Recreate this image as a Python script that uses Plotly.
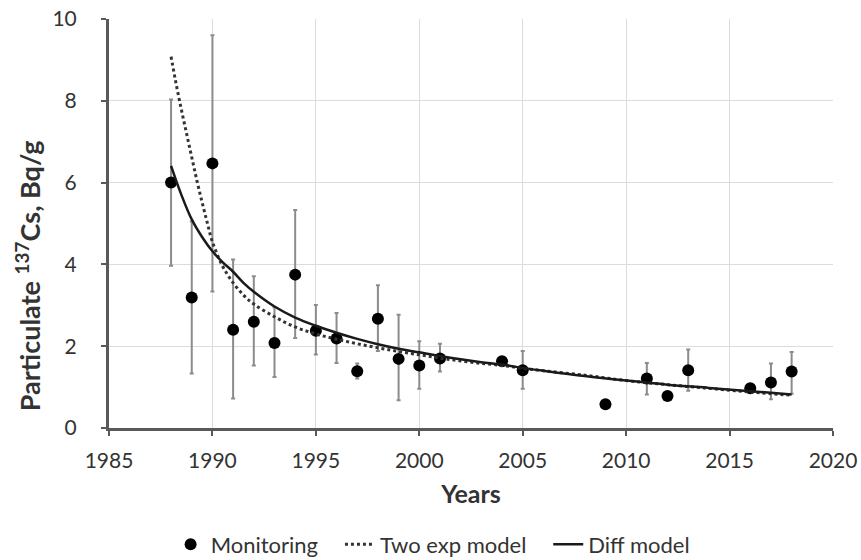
import plotly.graph_objects as go

# Monitoring data
years = [1988, 1989, 1990, 1991, 1992, 1993, 1994, 1995, 1996, 1997, 1998, 1999,
         2000, 2001, 2004, 2005, 2009, 2011, 2012, 2013, 2016, 2017, 2018]
values = [6.00, 3.19, 6.47, 2.40, 2.60, 2.08, 3.75, 2.38, 2.19, 1.39, 2.67, 1.69,
          1.53, 1.70, 1.63, 1.41, 0.58, 1.21, 0.78, 1.41, 0.97, 1.11, 1.38]
err_plus = [2.03, 1.86, 3.13, 1.72, 1.11, 0.87, 1.58, 0.63, 0.62, 0.19, 0.82, 1.08,
            0.59, 0.36, 0.0, 0.47, 0.0, 0.38, 0.0, 0.51, 0.0, 0.47, 0.48]
err_minus = [2.03, 1.86, 3.13, 1.68, 1.07, 0.83, 1.55, 0.58, 0.60, 0.18, 0.79, 1.01,
             0.57, 0.32, 0.0, 0.45, 0.0, 0.39, 0.0, 0.50, 0.0, 0.41, 0.54]

# Two exponential model curve
two_exp_years = [1988, 1988.25, 1988.5, 1988.75, 1989, 1989.25, 1989.5, 1989.75, 1990,
                 1990.5, 1991, 1991.5, 1992, 1993, 1994, 1995, 1996, 1997, 1998, 1999,
                 2000, 2001, 2002, 2003, 2004, 2005, 2006, 2008, 2010, 2012, 2014,
                 2016, 2018]
two_exp_vals = [9.08, 8.40, 7.78, 7.20, 6.62, 6.05, 5.52, 5.02, 4.55,
                3.95, 3.55, 3.25, 3.03, 2.72, 2.47, 2.30, 2.17, 2.06, 1.96, 1.87,
                1.79, 1.71, 1.64, 1.58, 1.53, 1.46, 1.40, 1.29, 1.16, 1.06, 0.97,
                0.88, 0.80]

# Diffusion model curve
diff_years = [1988, 1988.5, 1989, 1989.5, 1990, 1990.5, 1991, 1991.5, 1992, 1993, 1994,
              1995, 1996, 1997, 1998, 1999, 2000, 2001, 2002, 2003, 2004, 2005, 2006,
              2008, 2010, 2012, 2014, 2016, 2018]
diff_vals = [6.41, 5.70, 5.10, 4.67, 4.32, 4.05, 3.82, 3.55, 3.33, 2.97, 2.70,
             2.50, 2.33, 2.18, 2.05, 1.94, 1.85, 1.76, 1.68, 1.61, 1.55, 1.47, 1.40,
             1.27, 1.16, 1.06, 0.98, 0.90, 0.82]

x_ticks = [1985, 1990, 1995, 2000, 2005, 2010, 2015, 2020]
y_ticks = [0, 2, 4, 6, 8, 10]

font_family = "Lato, 'Open Sans', sans-serif"
text_color = "#333333"
pad = "\u00a0\u00a0\u00a0"

fig = go.Figure()

fig.add_trace(go.Scatter(
    x=years, y=values, mode="markers", name="Monitoring" + pad,
    marker=dict(color="black", size=12),
    error_y=dict(type="data", symmetric=False, array=err_plus, arrayminus=err_minus,
                 color="#8c8c8c", thickness=2, width=2),
))
fig.add_trace(go.Scatter(
    x=two_exp_years, y=two_exp_vals, mode="lines", name="Two exp model" + pad,
    line=dict(color="#333333", width=3, dash="dot", shape="spline"),
))
fig.add_trace(go.Scatter(
    x=diff_years, y=diff_vals, mode="lines", name="Diff model",
    line=dict(color="#1a1a1a", width=2.5, shape="spline"),
))

fig.update_layout(
    width=861, height=560,
    margin=dict(l=109, r=28, t=19, b=132, autoexpand=False),
    plot_bgcolor="white", paper_bgcolor="white",
    font=dict(family=font_family, size=20, color=text_color),
    showlegend=True,
    legend=dict(orientation="h", x=0.447, xanchor="center", y=-0.285, yanchor="middle",
                font=dict(size=22, color=text_color), traceorder="normal",
                itemwidth=30),
    annotations=[dict(
        text="<b>Particulate <sup>137</sup>Cs, Bq/g</b>",
        xref="paper", yref="paper", x=-0.112, y=0.037,
        xanchor="center", yanchor="bottom", textangle=-90, showarrow=False,
        font=dict(size=27, color=text_color),
    )],
)

fig.update_xaxes(
    range=[1985, 2020], tickvals=x_ticks,
    showgrid=True, gridcolor="#dcdcdc", gridwidth=1,
    showline=True, linecolor="#595959", linewidth=3,
    ticks="outside", ticklen=5, tickwidth=2, tickcolor="#595959",
    tickfont=dict(size=21, color=text_color),
    ticklabelstandoff=7,
    title=dict(text="<b>Years</b>", font=dict(size=25, color=text_color), standoff=15),
    zeroline=False, automargin=False,
)
fig.update_yaxes(
    range=[0, 10], tickvals=y_ticks,
    showgrid=True, gridcolor="#dcdcdc", gridwidth=1,
    showline=True, linecolor="#595959", linewidth=3,
    ticks="outside", ticklen=5, tickwidth=2, tickcolor="#595959",
    tickfont=dict(size=21, color=text_color),
    ticklabelstandoff=20,
    zeroline=False, automargin=False,
)

fig.write_html("out.html")
